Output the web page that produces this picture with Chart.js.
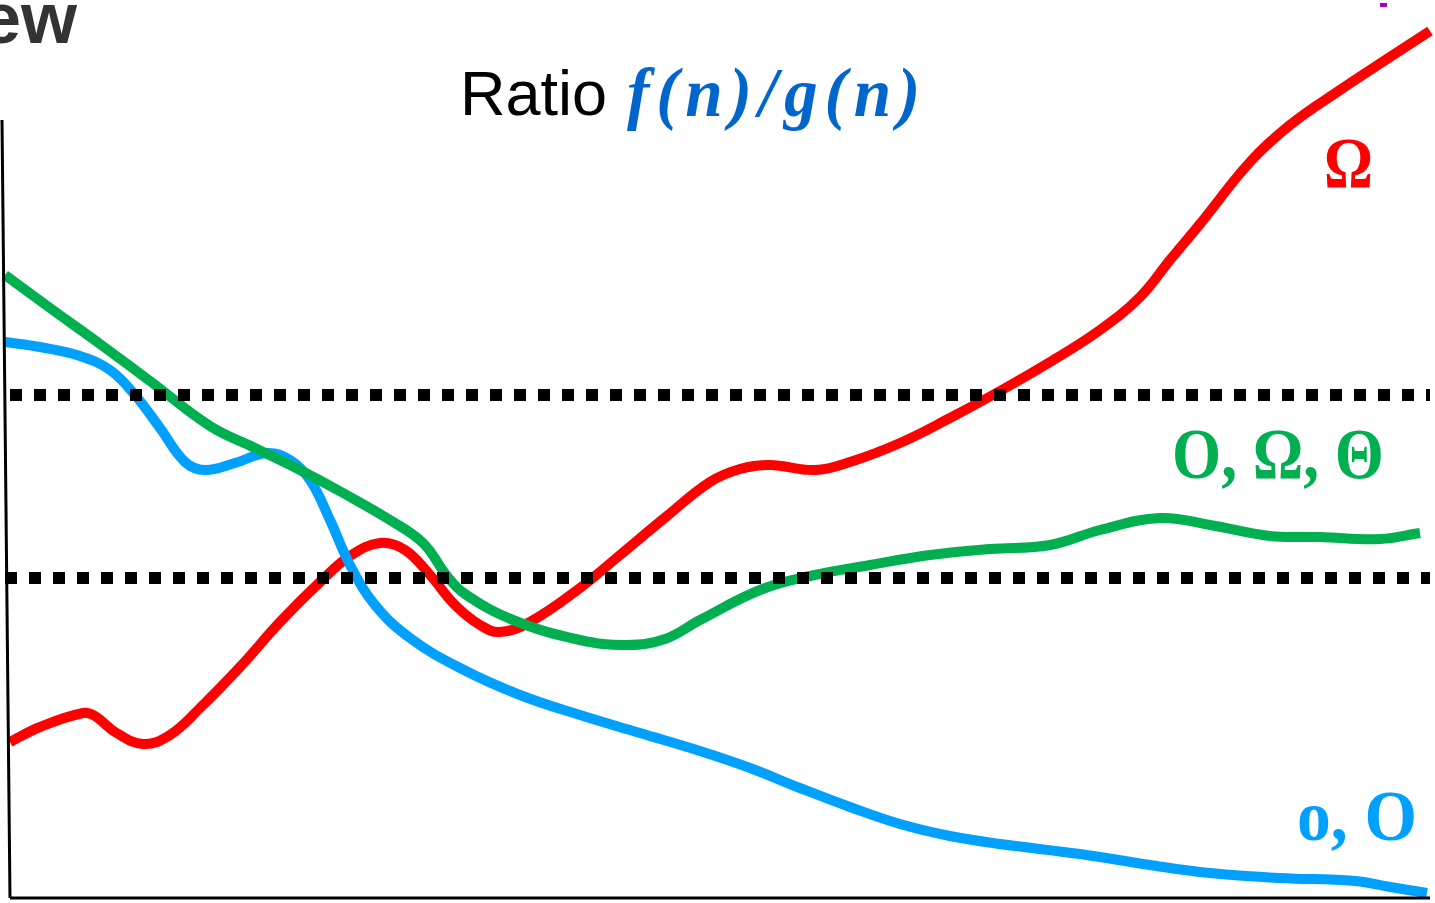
<!DOCTYPE html>
<html>
<head>
<meta charset="utf-8">
<script src="https://cdn.jsdelivr.net/npm/chart.js@4.4.1/dist/chart.umd.min.js"></script>
<style>
  html, body { margin: 0; padding: 0; background: #fff; }
  canvas { display: block; }
</style>
</head>
<body>
<canvas id="ratioChart" width="1435" height="903"></canvas>
<script>
// n along the x axis, ratio f(n)/g(n) on the y axis
const thetaN = [0.05, 0.5, 1.0, 1.5, 2.1, 2.55, 3.0, 3.45, 3.9, 4.23, 4.47, 4.65, 5.13, 5.8, 6.27, 6.65, 7.0, 7.6, 8.1, 8.7, 9.3, 9.9, 10.5, 11.0, 11.6, 12.1, 12.7, 13.2, 13.8, 14.2];
const thetaRatio = [6.23, 5.90, 5.54, 5.17, 4.72, 4.50, 4.28, 4.04, 3.78, 3.55, 3.22, 3.04, 2.78, 2.58, 2.53, 2.59, 2.78, 3.08, 3.22, 3.33, 3.43, 3.49, 3.53, 3.68, 3.80, 3.73, 3.62, 3.61, 3.59, 3.65];

const omegaN = [0.1, 0.4, 0.83, 0.95, 1.15, 1.43, 1.7, 2.0, 2.4, 2.8, 3.2, 3.5, 3.8, 4.05, 4.3, 4.55, 4.8, 5.0, 5.3, 5.8, 6.2, 6.67, 7.1, 7.4, 7.7, 8.15, 8.5, 9.0, 9.5, 10.0, 10.5, 11.0, 11.4, 11.7, 12.0, 12.5, 12.9, 13.4, 13.9, 14.3];
const omegaRatio = [1.56, 1.71, 1.85, 1.82, 1.66, 1.54, 1.63, 1.90, 2.31, 2.76, 3.16, 3.42, 3.55, 3.48, 3.23, 2.93, 2.73, 2.66, 2.76, 3.10, 3.43, 3.82, 4.16, 4.29, 4.33, 4.28, 4.36, 4.55, 4.80, 5.07, 5.36, 5.68, 6.01, 6.38, 6.74, 7.36, 7.73, 8.08, 8.41, 8.67];

const littleON = [0.05, 0.4, 0.8, 1.1, 1.35, 1.6, 1.85, 2.05, 2.35, 2.67, 2.9, 3.1, 3.3, 3.5, 3.75, 4.1, 4.6, 5.2, 5.8, 6.4, 7.0, 7.5, 8.0, 8.5, 9.0, 9.5, 10.0, 10.8, 11.5, 12.1, 12.8, 13.55, 13.9, 14.27];
const littleORatio = [5.56, 5.51, 5.42, 5.28, 5.03, 4.70, 4.36, 4.28, 4.35, 4.45, 4.38, 4.18, 3.78, 3.33, 2.93, 2.60, 2.30, 2.03, 1.83, 1.65, 1.47, 1.30, 1.10, 0.91, 0.74, 0.62, 0.54, 0.44, 0.33, 0.25, 0.20, 0.17, 0.11, 0.05];

const upperBound = 5.03;
const lowerBound = 3.20;
const boundN = [0.1, 14.3];

const seriesLabels = ['O, \u03A9, \u0398', '\u03A9', 'o, O'];

const toPoints = (xs, ys) => xs.map((x, i) => ({ x: x, y: ys[i] }));

const curve = (label, xs, ys, color) => ({
  label: label,
  data: toPoints(xs, ys),
  borderColor: color,
  borderWidth: 10,
  pointRadius: 0,
  tension: 0.4,
  borderCapStyle: 'butt',
  fill: false
});

const dotted = (y, x0) => ({
  data: [{ x: x0, y: y }, { x: boundN[1], y: y }],
  borderColor: '#000',
  borderWidth: 12,
  borderDash: [12, 12],
  borderCapStyle: 'butt',
  pointRadius: 0,
  tension: 0
});

const axisLine = (pts) => ({
  data: pts,
  borderColor: '#000',
  borderWidth: 3,
  pointRadius: 0,
  tension: 0
});

// draw text squeezed/stretched to a width
const fitText = (ctx, text, x, y, font, color, width, spacing) => {
  ctx.save();
  ctx.font = font;
  ctx.fillStyle = color;
  ctx.textBaseline = 'alphabetic';
  if (spacing) ctx.letterSpacing = spacing;
  const w = ctx.measureText(text).width;
  ctx.translate(x, y);
  ctx.scale(width / w, 1);
  ctx.fillText(text, 0, 0);
  ctx.restore();
};

const labelsPlugin = {
  id: 'labels',
  afterDatasetsDraw(chart) {
    const ctx = chart.ctx;
    const xs = chart.scales.x;
    const ys = chart.scales.y;

    // header remnant at the top-left
    ctx.save();
    ctx.font = 'bold 72px "Liberation Sans", Arial, sans-serif';
    ctx.fillStyle = '#333333';
    ctx.textAlign = 'right';
    ctx.fillText('Overview', 77, 43);
    ctx.fillStyle = '#A000C0';
    ctx.fillRect(1380, 3, 7, 4);
    ctx.restore();

    // title
    ctx.save();
    ctx.font = '63px "Liberation Sans", Arial, sans-serif';
    ctx.fillStyle = '#000';
    ctx.fillText('Ratio', 460, 115);
    ctx.restore();
    fitText(ctx, 'f(n)/g(n)', 627, 116, 'bold italic 70px "Liberation Serif", "Times New Roman", serif', '#0066CC', 300, '7px');

    const serif = 'bold 72px "Liberation Serif", "Times New Roman", serif';
    fitText(ctx, seriesLabels[1], xs.getPixelForValue(13.24), ys.getPixelForValue(7.11), serif, '#FF0000', 49);
    fitText(ctx, seriesLabels[0], xs.getPixelForValue(11.72), ys.getPixelForValue(4.20), serif, '#00B050', 212);
    fitText(ctx, seriesLabels[2], xs.getPixelForValue(12.97), ys.getPixelForValue(0.58), serif, '#00A0FF', 120);
  }
};

new Chart(document.getElementById('ratioChart').getContext('2d'), {
  type: 'line',
  data: {
    datasets: [
      dotted(upperBound, boundN[0]),
      dotted(lowerBound, 0.05),
      axisLine([{ x: 0.02, y: 7.78 }, { x: 0.1, y: 0 }]),
      axisLine([{ x: 0.1, y: 0 }, { x: 14.3, y: 0 }]),
      curve(seriesLabels[0], thetaN, thetaRatio, '#00B050'),
      curve(seriesLabels[2], littleON, littleORatio, '#00A0FF'),
      curve(seriesLabels[1], omegaN, omegaRatio, '#FF0000')
    ]
  },
  options: {
    responsive: false,
    animation: false,
    layout: { padding: 0 },
    plugins: {
      legend: { display: false },
      title: { display: false },
      tooltip: { enabled: false }
    },
    scales: {
      x: { type: 'linear', min: 0, max: 14.35, display: false },
      y: { type: 'linear', min: -0.05, max: 8.98, display: false }
    }
  },
  plugins: [labelsPlugin]
});
</script>
</body>
</html>
